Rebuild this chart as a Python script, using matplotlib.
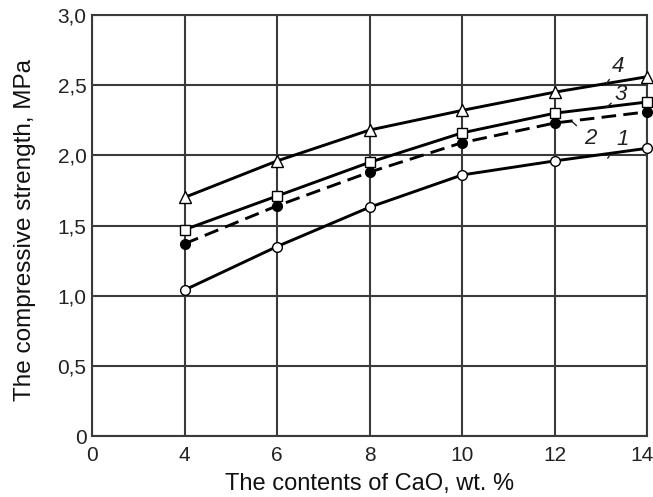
import numpy as np
import matplotlib
matplotlib.use("Agg")
import matplotlib.pyplot as plt
import matplotlib.transforms as mtransforms

# ---- data ----
cao = [4, 6, 8, 10, 12, 14]
curve1 = [1.04, 1.35, 1.63, 1.86, 1.96, 2.05]
curve2 = [1.37, 1.64, 1.88, 2.09, 2.23, 2.31]
curve3 = [1.47, 1.71, 1.95, 2.16, 2.30, 2.38]
curve4 = [1.70, 1.96, 2.18, 2.32, 2.45, 2.56]
xticks = [0, 4, 6, 8, 10, 12, 14]
xticklabels = ["0", "4", "6", "8", "10", "12", "14"]
yticks = [0, 0.5, 1.0, 1.5, 2.0, 2.5, 3.0]
yticklabels = ["0", "0,5", "1,0", "1,5", "2,0", "2,5", "3,0"]
xlabel = "The contents of CaO, wt. %"
ylabel = "The compressive strength, MPa"

plt.rcParams['font.family'] = ['Liberation Sans', 'DejaVu Sans']

fig = plt.figure(figsize=(6.53, 4.97), dpi=100)
ax = fig.add_axes([92/653, 61/497, 555/653, 421/497])

# axis with a break: 0 at left edge, then 4..14 evenly spaced
def fwd(x):
    x = np.asarray(x, dtype=float)
    return np.where(x < 4, x / 4.0, (x - 2.0) / 2.0)

def inv(u):
    u = np.asarray(u, dtype=float)
    return np.where(u < 1, u * 4.0, u * 2.0 + 2.0)

ax.set_xscale('function', functions=(fwd, inv))
ax.set_xlim(0, 14)
ax.set_ylim(0, 3.0)

lw = 2.1
ms = 7.0
ax.plot(cao, curve4, '-', color='black', lw=lw, marker='^', ms=ms+1.5,
        mfc='white', mec='black', mew=1.0, zorder=3, clip_on=False)
ax.plot(cao, curve3, '-', color='black', lw=lw, marker='s', ms=ms-0.5,
        mfc='white', mec='black', mew=1.0, zorder=3, clip_on=False)
ax.plot(cao, curve2, '--', color='black', lw=lw, marker='o', ms=ms,
        mfc='black', mec='black', mew=1.0, dashes=(5, 2.5), zorder=3,
        clip_on=False)
ax.plot(cao, curve1, '-', color='black', lw=lw, marker='o', ms=ms,
        mfc='white', mec='black', mew=1.0, zorder=3, clip_on=False)

ax.set_xticks(xticks)
ax.set_xticklabels(xticklabels)
ax.set_yticks(yticks)
ax.set_yticklabels(yticklabels)
ax.tick_params(axis='both', length=0, labelsize=15, colors='#222222')
ax.tick_params(axis='x', pad=7)
ax.tick_params(axis='y', pad=4)
# shift last x tick label slightly left so it stays inside the figure
lastlab = ax.get_xticklabels()[-1]
lastlab.set_transform(lastlab.get_transform() +
                      mtransforms.ScaledTranslation(-0.05, 0, fig.dpi_scale_trans))

ax.grid(True, color='#3a3a3a', lw=1.5)
ax.set_axisbelow(True)
for s in ax.spines.values():
    s.set_color('#3a3a3a')
    s.set_linewidth(1.5)

ax.set_xlabel(xlabel, fontsize=17, color='#111111')
ax.set_ylabel(ylabel, fontsize=17.5, color='#111111')
ax.xaxis.set_label_coords(0.5, -0.088)
ax.yaxis.set_label_coords(-0.1, 0.49)

# curve number labels with leader lines
labels = [("4", (13.38, 2.63), (13.12, 2.51)),
          ("3", (13.42, 2.43), (13.12, 2.34)),
          ("2", (12.78, 2.12), (12.38, 2.24)),
          ("1", (13.47, 2.11), (13.15, 1.98))]
for txt, xyt, xy in labels:
    ax.annotate(txt, xy=xy, xytext=xyt, fontsize=16, style='italic',
                ha='center', va='center', color='#222222',
                arrowprops=dict(arrowstyle='-', color='#222222', lw=1.0,
                                shrinkA=5, shrinkB=0))

fig.savefig("out.png", dpi=100)
